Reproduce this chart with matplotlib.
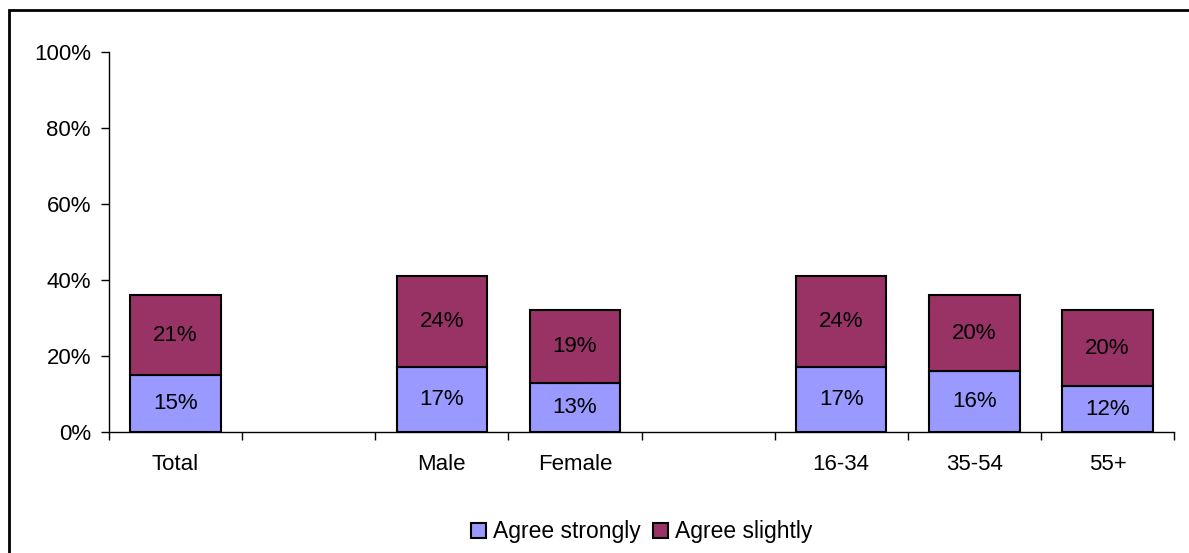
import matplotlib
matplotlib.use("Agg")
import matplotlib.pyplot as plt
from matplotlib.patches import Rectangle
import numpy as np

plt.rcParams['font.family'] = ['Liberation Sans', 'DejaVu Sans']

# data
categories = ["Total", "", "Male", "Female", "", "16-34", "35-54", "55+"]
agree_strongly = [15, None, 17, 13, None, 17, 16, 12]
agree_slightly = [21, None, 24, 19, None, 24, 20, 20]
series_names = ["Agree strongly", "Agree slightly"]
colors = ["#9999FF", "#993366"]
yticks = [0, 20, 40, 60, 80, 100]

W, H = 1189, 553
fig = plt.figure(figsize=(W / 100, H / 100), dpi=100)
ax = fig.add_axes([109 / W, (H - 432) / H, (1174 - 109) / W, 380 / H])

x = np.arange(len(categories))
idx = [i for i, v in enumerate(agree_strongly) if v is not None]
s1 = np.array([agree_strongly[i] for i in idx])
s2 = np.array([agree_slightly[i] for i in idx])
xs = x[idx]

b1 = ax.bar(xs, s1, width=0.68, color=colors[0], edgecolor="black", lw=1.5,
            label=series_names[0], zorder=3)
b2 = ax.bar(xs, s2, bottom=s1, width=0.68, color=colors[1], edgecolor="black",
            lw=1.5, label=series_names[1], zorder=3)

for xi, a, b in zip(xs, s1, s2):
    ax.text(xi, a / 2, f"{a}%", ha="center", va="center", fontsize=16, zorder=4)
    ax.text(xi, a + b / 2, f"{b}%", ha="center", va="center", fontsize=16, zorder=4)

ax.set_xlim(-0.5, len(categories) - 0.5)
ax.set_ylim(0, 100)
ax.set_yticks(yticks)
ax.set_yticklabels([f"{t}%" for t in yticks], fontsize=16)
ax.set_xticks(x)
ax.set_xticklabels(categories, fontsize=16)
ax.set_xticks(np.arange(len(categories) + 1) - 0.5, minor=True)
ax.tick_params(axis="x", which="major", length=0, pad=16)
ax.tick_params(axis="x", which="minor", length=6, width=1, direction="out")
ax.tick_params(axis="y", length=6, width=1, direction="out", pad=7)

for s in ["top", "right"]:
    ax.spines[s].set_visible(False)
for s in ["left", "bottom"]:
    ax.spines[s].set_linewidth(1)

ax.legend(loc="center", bbox_to_anchor=(0.5, -0.263), ncol=2, frameon=False,
          fontsize=16.5, handlelength=0.65, handleheight=0.65, handletextpad=0.3,
          columnspacing=0.55)

# outer chart frame (only top and left edges fall inside the image)
fig.patches.append(Rectangle((9 / W, -0.1), 1.2, 1.1 - 10 / H,
                             transform=fig.transFigure, fill=False,
                             edgecolor="black", lw=2))

fig.savefig("out.png", dpi=100)
